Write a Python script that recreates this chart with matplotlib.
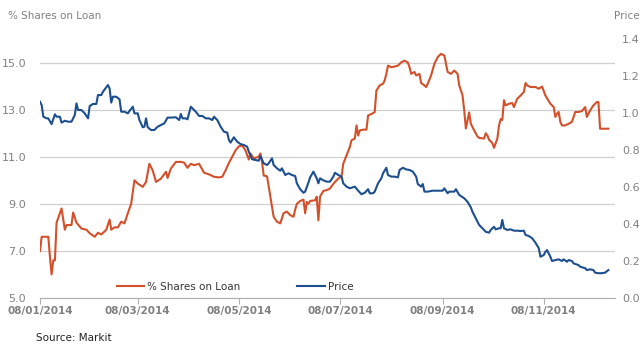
import datetime as dt
import matplotlib
matplotlib.use("Agg")
import matplotlib.pyplot as plt
import matplotlib.dates as mdates

# Day offsets from 08/01/2014 and values
start = dt.date(2014, 1, 8)

loan_days = [0, 1, 5, 6, 7, 8, 9, 10, 11, 13, 15, 16, 19, 20, 22, 25, 28, 30, 33, 35,
             37, 40, 42, 43, 45, 47, 49, 51, 53, 55, 57, 59, 62, 64, 66, 68, 70, 73, 76, 77,
             79, 82, 85, 87, 89, 91, 93, 96, 99, 102, 105, 108, 110, 112, 114, 116, 118, 120, 122, 124,
             126, 127, 129, 132, 133, 134, 135, 137, 139, 141, 143, 145, 147, 149, 151, 153, 154, 155, 157, 159,
             160, 161, 162, 163, 166, 167, 168, 169, 171, 173, 175, 176, 178, 180, 182, 183, 185, 187, 188, 190,
             191, 192, 193, 195, 197, 198, 201, 202, 203, 205, 207, 208, 209, 210, 212, 214, 216, 218, 220, 222,
             223, 224, 226, 227, 229, 230, 232, 233, 234, 236, 238, 240, 242, 244, 246, 248, 250, 252, 253, 255,
             256, 257, 259, 260, 262, 264, 265, 268, 269, 270, 271, 273, 274, 276, 277, 278, 279, 280, 281, 283,
             285, 286, 288, 290, 292, 293, 294, 296, 299, 301, 303, 305, 308, 310, 311, 312, 313, 314, 315, 317,
             319, 321, 323, 325, 327, 329, 330, 332, 334, 336, 337, 338, 341, 343]
loan_vals = [7.0, 7.6, 7.6, 6.75, 6.0, 6.6, 6.6, 8.2, 8.4, 8.8, 7.9, 8.1, 8.1, 8.63, 8.2, 7.95, 7.9, 7.75, 7.6, 7.77,
             7.7, 7.9, 8.33, 7.9, 8.0, 8.0, 8.24, 8.17, 8.6, 9.0, 10.0, 9.86, 9.72, 9.93, 10.7, 10.42, 9.93, 10.07, 10.36, 10.1,
             10.5, 10.78, 10.78, 10.75, 10.53, 10.7, 10.64, 10.7, 10.32, 10.25, 10.15, 10.12, 10.15, 10.42, 10.74, 11.0, 11.27, 11.44, 11.48, 11.27,
             10.88, 11.14, 10.93, 11.0, 11.14, 10.78, 10.2, 10.17, 9.3, 8.45, 8.24, 8.17, 8.6, 8.67, 8.52, 8.45, 8.76, 9.0, 9.12, 9.18,
             8.6, 9.08, 9.0, 9.12, 9.15, 9.3, 8.3, 9.3, 9.55, 9.58, 9.65, 9.75, 9.93, 10.07, 10.17, 10.7, 11.06, 11.42, 11.7, 11.77,
             12.33, 11.9, 12.12, 12.15, 12.15, 12.75, 12.85, 12.9, 13.81, 14.03, 14.1, 14.24, 14.52, 14.87, 14.8, 14.83, 14.87, 15.01, 15.08, 15.0,
             14.8, 14.52, 14.6, 14.45, 14.52, 14.13, 14.03, 13.96, 14.1, 14.45, 14.95, 15.23, 15.37, 15.3, 14.6, 14.52, 14.66, 14.52, 14.03, 13.6,
             12.97, 12.2, 12.88, 12.4, 12.12, 11.86, 11.8, 11.77, 12.0, 11.9, 11.72, 11.58, 11.38, 11.77, 12.33, 12.6, 12.56, 13.4, 13.18, 13.25,
             13.28, 13.11, 13.46, 13.6, 13.75, 14.13, 14.03, 13.96, 13.96, 13.89, 13.98, 13.6, 13.25, 13.11, 12.69, 12.83, 12.9, 12.48, 12.33, 12.33,
             12.4, 12.48, 12.9, 12.9, 12.94, 13.11, 12.69, 12.97, 13.18, 13.32, 13.32, 12.19, 12.19, 12.19]

price_days = [0, 1, 2, 4, 5, 7, 9, 10, 12, 13, 15, 17, 19, 21, 22, 23, 25, 27, 29, 30,
              32, 34, 35, 37, 38, 41, 42, 43, 44, 46, 48, 49, 51, 53, 54, 56, 57, 59, 60, 62,
              63, 64, 65, 67, 69, 71, 73, 75, 77, 79, 82, 84, 85, 86, 88, 89, 91, 94, 96, 98,
              100, 102, 104, 105, 107, 109, 111, 113, 114, 115, 117, 119, 121, 123, 125, 126, 128, 130, 132, 133,
              135, 137, 138, 140, 141, 143, 145, 146, 148, 150, 152, 154, 155, 157, 159, 160, 162, 163, 165, 167,
              168, 169, 171, 173, 175, 177, 178, 180, 182, 183, 185, 187, 190, 192, 194, 196, 198, 199, 201, 202,
              204, 206, 207, 209, 210, 212, 214, 216, 217, 219, 221, 223, 225, 227, 228, 230, 231, 232, 234, 237,
              240, 243, 244, 246, 247, 250, 251, 253, 256, 258, 260, 261, 263, 265, 267, 269, 271, 272, 274, 275,
              277, 278, 279, 280, 282, 284, 286, 288, 290, 292, 293, 295, 297, 299, 301, 302, 304, 305, 306, 308,
              309, 311, 313, 315, 316, 318, 319, 321, 322, 325, 326, 329, 330, 332, 334, 335, 337, 339, 341, 343]
price_vals = [1.061, 1.043, 0.98, 0.971, 0.971, 0.94, 0.993, 0.98, 0.98, 0.948, 0.958, 0.953, 0.953, 0.989, 1.052, 1.016, 1.016, 0.998, 0.971, 1.038,
              1.049, 1.049, 1.097, 1.097, 1.115, 1.151, 1.133, 1.056, 1.088, 1.088, 1.074, 1.007, 1.007, 0.998, 1.011, 1.034, 0.998, 0.998, 0.962, 0.923,
              0.926, 0.971, 0.923, 0.908, 0.908, 0.926, 0.935, 0.944, 0.975, 0.975, 0.977, 0.962, 0.995, 0.971, 0.971, 0.966, 1.034, 1.007, 0.984, 0.984,
              0.971, 0.971, 0.962, 0.98, 0.962, 0.926, 0.899, 0.894, 0.854, 0.84, 0.869, 0.845, 0.832, 0.827, 0.818, 0.791, 0.75, 0.746, 0.742, 0.768,
              0.728, 0.719, 0.728, 0.755, 0.719, 0.701, 0.688, 0.701, 0.665, 0.674, 0.665, 0.659, 0.62, 0.588, 0.569, 0.575, 0.624, 0.652, 0.683, 0.647,
              0.62, 0.647, 0.636, 0.629, 0.629, 0.656, 0.677, 0.665, 0.656, 0.62, 0.602, 0.593, 0.602, 0.58, 0.561, 0.569, 0.588, 0.566, 0.566, 0.575,
              0.62, 0.647, 0.674, 0.704, 0.665, 0.656, 0.656, 0.652, 0.692, 0.704, 0.695, 0.692, 0.683, 0.656, 0.616, 0.602, 0.616, 0.575, 0.575, 0.58,
              0.58, 0.58, 0.593, 0.566, 0.575, 0.575, 0.588, 0.557, 0.539, 0.52, 0.49, 0.466, 0.431, 0.395, 0.377, 0.358, 0.353, 0.368, 0.385, 0.371,
              0.377, 0.377, 0.422, 0.377, 0.368, 0.371, 0.364, 0.364, 0.362, 0.364, 0.341, 0.335, 0.323, 0.299, 0.269, 0.223, 0.232, 0.25, 0.259, 0.223,
              0.2, 0.205, 0.209, 0.2, 0.209, 0.196, 0.205, 0.2, 0.187, 0.178, 0.169, 0.161, 0.151, 0.155, 0.151, 0.137, 0.134, 0.134, 0.137, 0.151]

tick_dates = [dt.date(2014, m, 8) for m in (1, 3, 5, 7, 9, 11)]
left_ticks = [5, 7, 9, 11, 13, 15]
right_ticks = [0.0, 0.2, 0.4, 0.6, 0.8, 1.0, 1.2, 1.4]

red = "#d4502a"
blue = "#1d4f8f"
grey = "#808080"
gridc = "#d0d0d0"

loan_x = [start + dt.timedelta(days=d) for d in loan_days]
price_x = [start + dt.timedelta(days=d) for d in price_days]

fig = plt.figure(figsize=(6.44, 3.44), dpi=100)
ax = fig.add_axes([40 / 644, 46 / 344, 575 / 644, 259 / 344])
ax2 = ax.twinx()

l1, = ax.plot(loan_x, loan_vals, color=red, lw=1.5, label="% Shares on Loan", zorder=3)
l2, = ax2.plot(price_x, price_vals, color=blue, lw=1.5, label="Price", zorder=3)

ax.set_ylim(5, 16)
ax2.set_ylim(0, 1.4)
ax.set_xlim(start, dt.date(2014, 12, 21))

ax.set_yticks(left_ticks)
ax.set_yticklabels([f"{v:.1f}" for v in left_ticks])
ax2.set_yticks(right_ticks)
ax2.set_yticklabels([f"{v:.1f}" for v in right_ticks])
ax.set_xticks(tick_dates)
ax.xaxis.set_major_formatter(mdates.DateFormatter("%d/%m/%Y"))

for a in (ax, ax2):
    for s in a.spines.values():
        s.set_visible(False)
ax.spines["bottom"].set_visible(True)
ax.spines["bottom"].set_color("#b0b0b0")

ax.grid(axis="y", color=gridc, lw=0.9)
ax.set_axisbelow(True)
ax.tick_params(axis="y", length=0, labelsize=8, labelcolor=grey, pad=10)
ax2.tick_params(axis="y", length=0, labelsize=8, labelcolor=grey, pad=5)
ax.tick_params(axis="x", length=4, color="#b0b0b0", labelsize=7.5, labelcolor=grey, pad=2)
for t in ax.get_xticklabels():
    t.set_fontweight("bold")

fig.text(8 / 644, 1 - 16 / 344, "% Shares on Loan", fontsize=7.5, color=grey, va="center")
fig.text(640 / 644, 1 - 16 / 344, "Price", fontsize=7.5, color=grey, va="center", ha="right")
fig.text(36 / 644, 1 - 338 / 344, "Source: Markit", fontsize=7.5, color="#222222", va="center")

leg = ax.legend(handles=[l1, l2], loc="center", bbox_to_anchor=(195 / 575, 11 / 259), ncol=2,
                frameon=False, fontsize=7.5, handlelength=2.6, handletextpad=0.3, columnspacing=5.5)
for t in leg.get_texts():
    t.set_color("#333333")

fig.savefig("out.png", dpi=100)
